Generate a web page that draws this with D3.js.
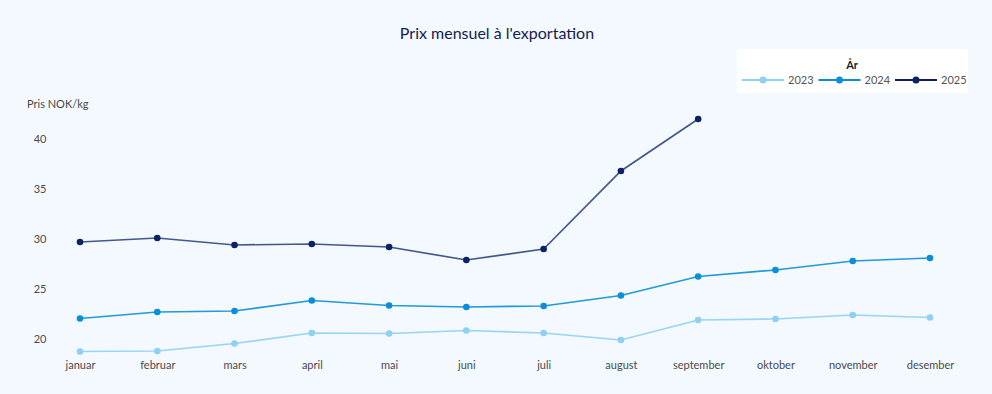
<!DOCTYPE html>
<html><head><meta charset="utf-8">
<script src="https://cdn.jsdelivr.net/npm/d3@7"></script>
<style>
html,body{margin:0;padding:0;background:#f3f9fe;}
svg{display:block;font-family:Lato,"Open Sans",sans-serif;}
</style></head><body>
<svg id="c" width="992" height="394"></svg>
<script>
const months = ["januar","februar","mars","april","mai","juni","juli","august","september","oktober","november","desember"];
const values2023 = [18.75,18.8,19.55,20.6,20.55,20.85,20.6,19.9,21.9,22.0,22.4,22.15];
const values2024 = [22.05,22.7,22.8,23.85,23.35,23.2,23.3,24.35,26.25,26.9,27.8,28.1];
const values2025 = [29.7,30.1,29.4,29.5,29.2,27.9,29.0,36.8,42.0];
const yTicks = [20,25,30,35,40];
const seriesNames = ["2023","2024","2025"];
const colors = ["#8fd0f3","#0a8ed6","#0b2266"];
const title = "Prix mensuel à l'exportation";
const yLabel = "Pris NOK/kg";
const legendTitle = "År";

const svg = d3.select("#c");
svg.append("rect").attr("width",992).attr("height",394).attr("fill","#f3f9fe");

const x = d3.scalePoint().domain(months).range([80,930]);
const y = d3.scaleLinear().domain([20,40]).range([339,139]);

svg.append("text").attr("x",497).attr("y",39).attr("text-anchor","middle")
  .attr("font-size",16).attr("fill","#14214f").text(title);

svg.append("text").attr("x",27).attr("y",108).attr("font-size",11).attr("fill","#4a4a4a").text(yLabel);

const yAxis = svg.append("g").attr("transform","translate(40,0)")
  .call(d3.axisLeft(y).tickValues(yTicks).tickSize(0).tickPadding(0));
yAxis.select(".domain").remove();
yAxis.selectAll("text").attr("text-anchor","middle").attr("font-size",11).attr("fill","#4a4a4a")
  .attr("font-family","Lato,'Open Sans',sans-serif");

const xAxis = svg.append("g").attr("transform","translate(0,361)")
  .call(d3.axisBottom(x).tickSize(0).tickPadding(0));
xAxis.select(".domain").remove();
xAxis.selectAll("text").attr("font-size",11).attr("fill","#4a4a4a").attr("dy","0.71em")
  .attr("font-family","Lato,'Open Sans',sans-serif");

const data = [values2023, values2024, values2025];
const line = d3.line().x((d,i)=>x(months[i])).y(d=>y(d));
data.forEach((vals,k)=>{
  const g = svg.append("g");
  g.append("path").datum(vals).attr("d",line).attr("fill","none")
    .attr("stroke",colors[k]).attr("stroke-width",1.7).attr("stroke-opacity",k===2?0.75:0.9);
  g.selectAll("circle").data(vals).join("circle")
    .attr("cx",(d,i)=>x(months[i])).attr("cy",d=>y(d)).attr("r",3.3).attr("fill",colors[k]);
});

// legend
const lg = svg.append("g");
lg.append("rect").attr("x",737).attr("y",49).attr("width",231).attr("height",44).attr("rx",2).attr("fill","#ffffff");
lg.append("text").attr("x",852).attr("y",69).attr("text-anchor","middle").attr("font-size",11)
  .attr("font-weight","bold").attr("fill","#222").text(legendTitle);
const lx = d3.scalePoint().domain(seriesNames).range([742,895]);
seriesNames.forEach((s,k)=>{
  const x0 = lx(s);
  lg.append("line").attr("x1",x0).attr("x2",x0+42).attr("y1",80).attr("y2",80)
    .attr("stroke",colors[k]).attr("stroke-width",2);
  lg.append("circle").attr("cx",x0+21).attr("cy",80).attr("r",3.5).attr("fill",colors[k]);
  lg.append("text").attr("x",x0+46).attr("y",84).attr("font-size",11).attr("fill","#555").text(s);
});
</script>
</body></html>
